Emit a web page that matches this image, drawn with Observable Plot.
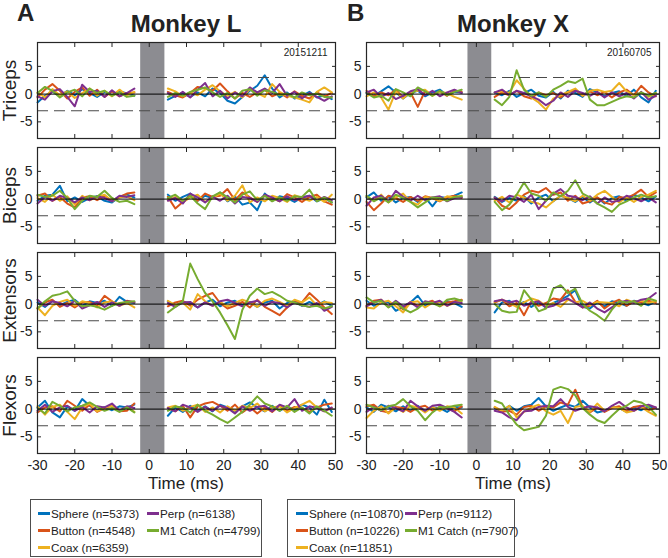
<!DOCTYPE html>
<html>
<head>
<meta charset="utf-8">
<script src="https://cdn.jsdelivr.net/npm/d3@7"></script>
<script src="https://cdn.jsdelivr.net/npm/@observablehq/plot@0.6"></script>
<style>
  body { margin: 0; background: #fff; font-family: "Liberation Sans", Arial, sans-serif; }
  #fig { position: relative; width: 668px; height: 558px; overflow: hidden; background: #fff; color: #222; }
  .abs { position: absolute; white-space: nowrap; }
  .panelLetter { font-weight: bold; font-size: 24px; line-height: 24px; }
  .monkeyTitle { font-weight: bold; font-size: 24px; line-height: 24px; transform: translateX(-50%); }
  .xlab { font-size: 17px; line-height: 17px; transform: translateX(-50%); }
  .legendBox { box-sizing: border-box; border: 1px solid #4d4d4d; background: #fff; }
  .legItem { position: absolute; font-size: 11.7px; line-height: 17px; height: 17px; display: flex; align-items: center; }
  .legItem .sw { display: inline-block; width: 12px; height: 3px; margin-right: 1px; }
  g[aria-label="y-axis label"] text { font-size: 19px; }
</style>
</head>
<body>
<div id="fig"></div>
<script>
// ---------- labels / categories ----------
const monkeys = ["Monkey L", "Monkey X"];
const panelLetters = ["A", "B"];
const sessionDates = ["20151211", "20160705"];
const muscles = ["Triceps", "Biceps", "Extensors", "Flexors"];
const conditions = ["Sphere", "Button", "Coax", "Perp", "M1 Catch"];
const conditionColors = ["#0072BD", "#D95319", "#EDB120", "#7E2F8E", "#77AC30"];
const trialCountsL = [5373, 4548, 6359, 6138, 4799];
const trialCountsX = [10870, 10226, 11851, 9112, 7907];
const xTicks = [-30, -20, -10, 0, 10, 20, 30, 40, 50];
const yTicks = [-5, 0, 5];
const thresholds = [-3, 3];
const stimWindow = [-2.3, 4.2];
const xLabel = "Time (ms)";

// time samples (ms): before and after the stimulation artifact window
const timesPre = [-30, -28, -26, -24, -22, -20, -18, -16, -14, -12, -10, -8, -6, -4];
const timesPost = [5, 7, 9, 11, 13, 15, 17, 19, 21, 23, 25, 27, 29, 31, 33, 35, 37, 39, 41, 43, 45, 47, 49];

// ---------- Monkey L ----------
const L_Triceps_Sphere = [-1.5,-0.3,0.5,-0.4,0.6,-0.2,0.9,0.2,-0.5,0.4,-0.2,0.5,0.1,-0.3, -1.0,-0.3,0.2,-0.5,0.3,-0.4,1.0,0.2,-1.2,-1.7,-0.5,0.6,1.5,3.4,1.0,-0.6,0.3,-0.8,-0.3,0.4,-0.6,-0.2,-0.9];
const L_Triceps_Button = [-0.6,0.8,1.8,0.6,-0.8,0.4,1.2,-0.3,0.8,-0.5,0.5,-0.4,0.2,0.3, 0.4,-0.2,-0.6,0.2,1.3,1.0,0.6,1.9,0.5,-0.8,0.2,-0.5,0.3,0.8,-0.4,0.2,-0.6,0.5,-0.3,-0.8,0.3,-0.4,0.2];
const L_Triceps_Coax = [0.3,-0.6,0.9,-0.2,0.5,-0.7,0.2,1.0,-0.3,0.6,-0.4,0.8,-0.2,0.4, 1.0,0.5,-0.4,0.3,-0.2,0.8,1.6,0.5,-0.3,0.4,-0.6,0.9,0.2,-0.5,1.8,0.4,-0.3,-0.6,-1.0,-1.5,0.4,1.2,0.3];
const L_Triceps_Perp = [-0.4,-1.0,0.5,0.9,-0.5,-2.2,1.7,0.4,0.6,-0.5,0.7,-0.4,0.2,1.0, 0.2,-0.5,0.4,-0.6,0.8,2.0,-0.4,0.6,-0.8,0.3,-0.4,1.2,0.3,1.0,0.2,1.8,-0.3,0.4,-0.8,0.2,-0.5,-1.2,-0.4];
const L_Triceps_M1 = [0.2,1.3,0.6,-0.6,0.3,0.8,-0.4,1.0,0.2,0.6,-0.3,0.3,-0.5,-0.3, -0.5,0.2,-0.3,0.4,0.8,1.2,0.3,-0.5,0.2,-0.8,0.6,0.9,-0.3,0.7,0.4,-0.2,0.1,-0.6,0.3,-0.2,0.1,-0.5,-0.6];

const L_Biceps_Sphere = [-0.3,0.6,0.8,2.4,-0.4,0.3,-0.5,0.2,0.5,-0.3,-0.6,0.4,0.8,0.3, 0.8,-0.3,0.4,1.0,-0.3,0.6,0.2,1.2,-0.4,0.5,-1.0,-0.6,-2.0,1.0,-0.3,0.5,0.2,-0.5,0.3,0.6,-0.4,0.2,-0.6];
const L_Biceps_Button = [0.6,1.0,-0.3,0.4,-0.8,-1.5,0.3,0.5,-0.2,0.6,-0.3,0.4,1.0,1.2, 0.4,-1.7,-0.5,0.6,-0.3,1.0,0.4,0.6,1.8,-0.2,1.2,0.3,-0.5,0.6,0.2,-0.4,0.9,0.3,-0.5,0.4,0.8,-0.4,-1.0];
const L_Biceps_Coax = [0.2,-0.5,0.8,-0.3,0.5,-1.0,0.6,-0.2,0.4,0.8,-0.4,0.3,0.5,-0.2, -0.2,0.4,-0.6,0.3,0.8,-0.5,0.2,1.0,-0.3,0.6,2.5,-0.6,0.3,-0.4,0.6,0.2,-0.5,0.7,0.2,-0.3,0.4,-0.5,0.8];
const L_Biceps_Perp = [-0.8,0.4,-0.3,0.6,0.2,-0.6,0.3,-0.2,0.5,0.2,-0.4,0.6,0.4,0.7, -0.3,0.2,-0.8,1.0,0.3,-0.6,0.5,-0.3,0.6,-0.8,0.4,0.2,-0.5,0.8,0.3,-0.4,0.5,-0.2,0.3,0.6,-0.3,0.4,-0.2];
const L_Biceps_M1 = [0.8,0.4,0.6,1.5,0.2,-1.8,-0.3,0.6,0.4,1.5,0.2,-0.5,-0.3,-0.9, 0.2,0.8,-0.3,0.6,-0.8,-1.8,0.5,1.2,0.3,-0.6,0.8,1.4,-0.2,0.6,-0.4,0.3,-0.3,0.5,0.4,1.7,-0.4,0.3,-0.6];

const L_Extensors_Sphere = [0.3,-0.5,0.6,-0.2,0.4,0.8,-0.3,0.5,0.2,0.6,-0.3,1.3,0.4,0.2, 0.5,-0.3,0.4,0.2,-0.6,0.3,0.8,-0.4,0.3,0.6,-0.2,0.4,-0.5,0.3,0.6,-0.8,0.2,0.5,-0.3,0.4,-0.2,0.5,-0.3];
const L_Extensors_Button = [-0.8,0.3,0.8,-0.5,0.2,-0.6,0.3,0.4,-0.3,1.5,0.5,-0.2,0.6,0.3, -0.4,0.3,0.6,-0.3,0.8,1.5,2.0,0.2,-0.8,-0.3,0.4,-0.6,0.8,-0.5,-1.2,-2.0,-0.6,0.5,0.3,2.0,0.8,-0.6,-1.8];
const L_Extensors_Coax = [-0.6,-2.0,-0.3,0.4,0.8,-0.3,0.5,0.2,-0.6,0.3,0.5,-0.3,0.2,-0.6, 0.6,-0.2,0.3,-1.0,1.8,0.5,-0.3,0.4,-0.4,0.2,0.8,0.3,-0.5,0.6,1.0,0.4,-0.3,0.8,0.3,1.2,-0.3,0.4,0.2];
const L_Extensors_Perp = [0.8,-0.3,0.5,0.2,-0.4,0.6,-0.8,-0.2,0.4,-0.5,0.3,-0.3,0.5,0.4, 0.2,-0.5,0.3,0.4,-0.6,0.3,-0.3,0.5,0.8,0.2,-0.4,0.3,0.6,-0.3,0.4,0.2,-0.6,0.3,-0.2,-0.5,0.2,-1.2,-0.5];
const L_Extensors_M1 = [-0.8,0.5,1.5,1.8,2.3,0.6,-0.4,-0.2,-0.5,-1.0,-0.3,0.2,0.4,0.5, -1.5,-0.5,0.5,7.3,4.5,2.0,0.5,-1.5,-3.8,-6.3,-1.0,1.5,2.8,1.8,2.2,1.5,0.6,0.3,-0.2,-0.5,-0.3,-0.8,-0.4];

const L_Flexors_Sphere = [0.3,1.5,-0.6,-1.5,0.5,-0.3,1.8,0.6,-0.3,0.4,-0.2,0.5,0.3,0.8, -1.2,0.3,-0.5,0.6,-0.3,0.5,-0.4,0.8,0.3,-0.6,0.5,1.2,0.3,-0.4,0.6,-0.3,0.5,-0.2,0.8,0.3,-1.0,1.7,-0.5];
const L_Flexors_Button = [-0.6,0.3,0.5,-0.4,1.5,0.6,-0.3,0.8,-0.5,0.2,0.6,-0.4,-0.3,1.0, 0.2,-0.4,0.6,-1.5,0.5,1.0,1.3,0.6,-0.3,0.8,-0.6,0.4,-0.8,0.3,-0.5,0.6,-0.3,0.4,0.2,-0.5,0.3,0.8,1.0];
const L_Flexors_Coax = [0.5,-1.0,0.4,0.8,-0.5,-1.8,0.3,1.0,-0.4,0.3,0.6,-0.3,0.4,-0.5, 0.3,0.6,-0.3,0.4,0.8,-0.5,0.3,-0.6,0.5,-0.3,0.6,0.2,1.0,-0.4,0.3,0.5,-0.6,0.2,0.8,1.5,0.3,-0.4,0.2];
const L_Flexors_Perp = [-0.3,0.8,-0.5,0.3,0.6,-0.3,0.4,-0.6,0.5,0.3,1.0,-0.3,0.5,0.2, 0.2,-0.4,0.8,0.3,-0.5,0.4,-0.3,0.6,0.2,-0.8,0.5,-0.3,0.4,0.6,-0.4,0.8,0.3,1.8,-0.3,0.5,0.2,-0.4,0.3];
const L_Flexors_M1 = [0.2,-0.8,1.3,0.6,-0.4,0.3,0.6,1.2,0.4,-0.3,0.2,-0.5,0.3,-0.6, -0.3,0.5,0.2,-0.6,0.8,-0.3,-1.0,-1.8,-2.5,-1.5,-0.5,0.8,2.3,1.0,0.5,-0.3,0.6,-0.5,0.3,-0.8,0.5,-0.3,-1.2];

// ---------- Monkey X ----------
const X_Triceps_Sphere = [0.2,-0.3,0.5,1.4,0.3,-0.8,0.2,0.6,-0.4,0.3,0.8,-0.2,0.4,0.3, 0.3,-0.2,0.6,-0.5,0.2,0.8,-0.3,-0.6,0.4,-0.8,0.6,0.2,-0.5,0.9,0.3,-0.4,0.2,0.5,-0.3,0.8,-0.6,-1.5,0.6];
const X_Triceps_Button = [0.6,-0.4,0.3,-0.2,0.8,-0.6,0.3,-2.3,0.6,-0.2,0.5,-0.3,0.6,0.4, -0.5,0.3,-0.2,0.6,-0.4,-0.8,0.3,-0.2,0.2,-0.6,0.3,0.8,-0.3,0.5,-0.2,0.4,-0.6,0.3,0.8,-0.2,1.5,0.3,-0.4];
const X_Triceps_Coax = [-0.4,0.3,-0.6,-2.8,0.5,-0.8,0.4,0.6,0.8,-0.3,0.4,0.2,-0.5,-1.0, 0.3,0.5,0.2,2.5,1.0,-0.6,-1.5,-2.8,-0.8,-0.2,0.4,1.0,-0.3,0.6,0.8,0.4,0.6,2.0,0.5,-0.2,0.3,-0.5,0.2];
const X_Triceps_Perp = [0.3,0.8,-0.5,0.2,-0.9,-0.3,0.5,0.9,-0.2,0.6,-0.4,0.3,0.8,0.2, 0.3,0.8,-0.2,0.6,0.2,-0.4,-1.0,-2.0,-1.2,0.3,-0.5,0.6,0.2,-0.3,0.4,-0.6,0.3,-0.4,0.2,-0.8,0.4,-1.0,-0.3];
const X_Triceps_M1 = [0.2,-0.6,-0.3,-1.2,0.9,0.3,-0.4,1.2,0.5,-0.3,0.6,-0.2,0.4,0.8, -1.0,-2.0,-0.5,4.3,0.8,-0.3,0.3,-0.5,0.8,1.5,2.3,2.0,2.8,-1.0,-2.0,-2.0,-1.4,-0.8,-0.4,-0.6,0.3,-0.3,0.2];

const X_Biceps_Sphere = [0.3,1.2,-0.3,0.5,-0.6,0.2,0.4,-0.5,0.3,-1.3,0.4,0.2,0.6,1.2, 0.4,-0.5,0.2,-0.3,0.5,-0.8,0.3,0.8,-0.4,0.6,0.2,-0.5,0.4,-0.6,0.3,-0.8,0.2,0.5,-0.3,0.8,0.3,-0.4,0.5];
const X_Biceps_Button = [-0.5,-2.0,-0.8,0.6,0.2,-0.5,0.4,-0.3,0.5,0.2,-0.4,0.3,0.6,0.2, 0.3,-1.2,-1.8,-0.6,0.8,1.5,1.2,2.0,0.8,1.2,-0.3,0.6,-0.8,-0.4,0.3,-0.6,-1.0,0.4,0.2,0.8,1.7,0.4,1.2];
const X_Biceps_Coax = [0.5,-0.3,0.8,-0.6,0.3,1.0,-0.5,-1.0,0.4,0.2,-0.3,0.5,0.3,0.6, -0.3,0.4,-0.6,0.8,0.3,-0.5,-0.8,-1.5,-0.4,0.6,0.2,-0.4,0.6,-0.3,0.8,1.5,0.4,-0.6,0.3,-0.5,0.4,0.8,1.5];
const X_Biceps_Perp = [-1.2,0.3,0.6,-0.5,1.5,0.4,-0.3,0.6,-0.2,0.3,0.5,-0.4,0.2,0.3, 0.2,-0.4,0.6,0.3,-0.5,0.8,-1.8,-0.3,1.0,1.8,0.6,0.4,-0.2,0.5,-0.8,0.3,-0.5,-0.3,0.6,0.2,-0.4,0.3,-0.6];
const X_Biceps_M1 = [0.6,-0.4,0.3,-0.6,0.8,0.2,-0.5,-1.5,-0.6,0.3,0.2,-0.3,0.4,0.5, -0.5,-2.0,-1.0,0.8,3.0,1.0,0.6,-0.3,1.2,0.5,1.5,3.4,1.0,0.3,-0.8,-1.5,-2.3,-1.0,-0.4,0.3,0.8,0.3,0.5];

const X_Extensors_Sphere = [0.6,-0.3,0.2,0.4,-1.2,-0.5,0.3,1.5,-0.3,0.4,-0.2,0.5,0.2,-0.5, -1.5,0.3,0.6,-0.3,0.4,-0.5,0.3,-0.6,0.2,0.8,1.5,2.5,-0.5,-0.8,0.3,-0.4,0.5,0.2,-0.3,0.6,0.3,-0.2,0.5];
const X_Extensors_Button = [-0.3,0.6,0.8,-0.5,0.3,-1.0,0.4,-0.3,0.2,0.6,-0.4,0.3,0.5,0.8, 0.3,0.8,-0.4,0.2,-2.0,0.5,-0.3,0.2,1.0,0.8,2.5,0.4,-0.6,-0.3,0.6,-0.8,0.2,0.8,-0.3,0.5,0.3,0.6,0.2];
const X_Extensors_Coax = [-0.6,-0.8,0.3,0.6,-0.4,-1.5,0.3,0.5,-0.6,0.2,0.4,-0.3,0.2,0.6, 0.4,0.8,0.2,-0.5,0.3,1.0,0.6,-0.3,0.2,-0.5,0.8,0.3,0.6,-0.2,0.4,0.3,0.2,-0.4,0.8,0.3,0.6,0.2,0.5];
const X_Extensors_Perp = [-0.4,0.3,0.8,-0.5,0.6,-0.4,0.3,-0.6,0.5,0.2,0.6,-0.3,0.4,0.2, 0.5,0.8,0.3,0.6,-0.3,0.2,0.5,-0.6,-0.3,0.5,1.0,0.2,-0.6,0.3,-0.8,-1.5,-0.6,0.3,0.6,0.2,0.8,1.0,2.0];
const X_Extensors_M1 = [1.2,0.3,0.6,-0.6,0.4,-0.8,-1.5,-0.8,0.3,0.2,-0.4,0.8,1.0,0.6, 0.0,-1.2,-1.5,-1.4,2.5,0.8,-1.3,-0.8,2.8,3.4,2.0,2.8,0.0,-1.2,-2.0,-3.0,-1.0,0.5,0.3,0.5,-0.3,1.0,0.6];

const X_Flexors_Sphere = [0.3,-0.5,0.8,0.3,-0.4,0.5,-0.3,0.6,-0.4,0.3,0.2,-0.5,0.4,0.3, 0.2,-0.4,0.6,-0.3,0.5,0.8,2.0,0.5,-0.3,0.3,0.8,0.4,1.5,0.3,-0.6,-0.3,0.4,0.2,-0.5,0.3,-0.2,0.5,0.2];
const X_Flexors_Button = [0.5,0.8,-0.3,-0.6,0.4,0.2,-0.5,0.3,0.6,-0.3,0.4,0.2,-0.4,0.5, 0.3,-0.5,-0.3,-1.0,0.4,0.6,-0.3,0.5,0.3,1.2,0.8,3.5,0.4,-0.6,0.3,-0.5,0.2,0.5,-0.3,0.4,0.6,-0.2,0.3];
const X_Flexors_Coax = [-1.6,-0.3,0.5,-0.8,0.3,-0.5,0.6,0.3,-0.6,0.4,-0.3,0.5,0.3,-0.8, 0.4,-0.3,0.6,-1.5,-0.5,0.3,0.8,-0.4,-1.0,-0.3,-2.5,0.4,0.6,-0.5,1.0,-0.3,0.4,0.2,-0.6,-0.3,0.4,-0.5,-1.2];
const X_Flexors_Perp = [-0.5,0.4,-0.3,0.6,0.2,-0.4,1.5,0.5,-0.3,0.6,0.8,0.2,-0.5,-1.5, -0.3,-0.6,-1.5,-2.0,-0.4,-0.3,0.4,0.6,0.5,1.8,0.4,-0.3,0.2,0.5,0.3,-0.4,0.6,1.3,0.3,-0.3,0.5,0.8,0.3];
const X_Flexors_M1 = [0.8,0.3,-0.2,0.5,0.8,1.8,0.5,-0.3,-2.0,-0.6,0.4,0.3,0.6,0.8, 1.5,1.0,-1.0,-2.8,-3.8,-3.5,-3.2,-1.2,3.5,4.0,3.6,2.5,0.2,-1.0,-2.0,-2.5,-1.2,0.0,0.6,1.5,1.2,0.4,-1.0];

// ---------- assemble (monkey -> muscle -> condition) ----------
const seriesTable = [
  [
    [L_Triceps_Sphere, L_Triceps_Button, L_Triceps_Coax, L_Triceps_Perp, L_Triceps_M1],
    [L_Biceps_Sphere, L_Biceps_Button, L_Biceps_Coax, L_Biceps_Perp, L_Biceps_M1],
    [L_Extensors_Sphere, L_Extensors_Button, L_Extensors_Coax, L_Extensors_Perp, L_Extensors_M1],
    [L_Flexors_Sphere, L_Flexors_Button, L_Flexors_Coax, L_Flexors_Perp, L_Flexors_M1]
  ],
  [
    [X_Triceps_Sphere, X_Triceps_Button, X_Triceps_Coax, X_Triceps_Perp, X_Triceps_M1],
    [X_Biceps_Sphere, X_Biceps_Button, X_Biceps_Coax, X_Biceps_Perp, X_Biceps_M1],
    [X_Extensors_Sphere, X_Extensors_Button, X_Extensors_Coax, X_Extensors_Perp, X_Extensors_M1],
    [X_Flexors_Sphere, X_Flexors_Button, X_Flexors_Coax, X_Flexors_Perp, X_Flexors_M1]
  ]
];
const trialCounts = [trialCountsL, trialCountsX];

// ---------- layout ----------
const fig = document.getElementById("fig");
const colLayout = [
  {left: 0, width: 338, marginLeft: 37, marginRight: 3, center: 186, legendLeft: 30, legendWidth: 232, swOff: [7, 116]},
  {left: 334, width: 334, marginLeft: 32, marginRight: 9, center: 513, legendLeft: 287, legendWidth: 228, swOff: [8, 117]}
];
const frameTops = [42, 147, 252, 357];
const frameH = 96, padTop = 4, padBottom = 4, bottomAxisSpace = 32;
const fontFam = "'Liberation Sans', Arial, Helvetica, sans-serif";

function rowsFor(mi, ri) {
  const rows = [];
  conditions.forEach((c, ci) => {
    const vals = seriesTable[mi][ri][ci];
    timesPre.forEach((t, i) => rows.push({t, v: vals[i], cond: c}));
    rows.push({t: 0, v: NaN, cond: c});
    timesPost.forEach((t, i) => rows.push({t, v: vals[timesPre.length + i], cond: c}));
  });
  return rows;
}

function makePanel(mi, ri) {
  const col = colLayout[mi];
  const isBottom = ri === muscles.length - 1;
  const mb = isBottom ? bottomAxisSpace : padBottom;
  const marks = [
    Plot.rect([stimWindow], {x1: d => d[0], x2: d => d[1], fill: "#8c8c91"}),
    Plot.line(rowsFor(mi, ri), {x: "t", y: "v", z: "cond", stroke: "cond", strokeWidth: 2, strokeLinejoin: "round"}),
    Plot.ruleY(thresholds, {stroke: "#4a4a4a", strokeWidth: 1.1, strokeDasharray: "11,6"}),
    Plot.ruleY([0], {stroke: "#000", strokeWidth: 1}),
    Plot.frame({stroke: "#262626", strokeWidth: 1.2}),
    Plot.axisX(xTicks, {anchor: "bottom", tickSize: -4, tickFormat: () => "", label: null, stroke: "#262626"}),
    Plot.axisX(xTicks, {anchor: "top", tickSize: -4, tickFormat: () => "", label: null, stroke: "#262626"}),
    Plot.axisY(yTicks, {anchor: "right", tickSize: -4, tickFormat: () => "", label: null, stroke: "#262626"}),
    Plot.axisY(yTicks, {anchor: "left", tickSize: -4, tickFormat: () => "", label: null, stroke: "#262626"}),
    Plot.axisY(yTicks, {anchor: "left", tickSize: 0, tickPadding: 5, tickFormat: d => `${d}`, fill: "#222", fontSize: 14,
      label: mi === 0 ? muscles[ri] : null, labelAnchor: "center", labelOffset: 35, labelArrow: "none"})
  ];
  if (isBottom) {
    marks.push(Plot.axisX(xTicks, {anchor: "bottom", tickSize: 0, tickPadding: 7, tickFormat: d => `${d}`, fill: "#222", fontSize: 14, label: null}));
  }
  if (ri === 0) {
    marks.push(Plot.text([sessionDates[mi]], {text: d => d, frameAnchor: "top-right", dx: -8, dy: 6, fontSize: 10, fill: "#222"}));
  }
  const svg = Plot.plot({
    width: col.width,
    height: padTop + frameH + mb,
    marginLeft: col.marginLeft,
    marginRight: col.marginRight,
    marginTop: padTop,
    marginBottom: mb,
    x: {domain: [xTicks[0], xTicks[xTicks.length - 1]]},
    y: {domain: [-8, 9.3]},
    color: {domain: conditions, range: conditionColors},
    style: {background: "none", overflow: "visible", fontFamily: fontFam, fontSize: "14px", color: "#222"},
    marks
  });
  svg.style.position = "absolute";
  svg.style.left = col.left + "px";
  svg.style.top = (frameTops[ri] - padTop) + "px";
  svg.style.maxWidth = "none";
  fig.appendChild(svg);
}

monkeys.forEach((m, mi) => muscles.forEach((mu, ri) => makePanel(mi, ri)));

function addText(cls, text, left, top) {
  const d = document.createElement("div");
  d.className = "abs " + cls;
  d.textContent = text;
  d.style.left = left + "px";
  d.style.top = top + "px";
  d.style.fontFamily = fontFam;
  fig.appendChild(d);
  return d;
}

const letterLeft = [17, 347];
monkeys.forEach((m, mi) => {
  const col = colLayout[mi];
  addText("panelLetter", panelLetters[mi], letterLeft[mi], 1);
  addText("monkeyTitle", m, col.center, 12);
  addText("xlab", xLabel, col.center, 475);
  // legend
  const box = document.createElement("div");
  box.className = "abs legendBox";
  Object.assign(box.style, {left: col.legendLeft + "px", top: "499px", width: col.legendWidth + "px", height: "58px"});
  conditions.forEach((c, ci) => {
    const colIdx = ci < 3 ? 0 : 1, rowIdx = ci < 3 ? ci : ci - 3;
    const it = document.createElement("div");
    it.className = "legItem";
    it.style.left = col.swOff[colIdx] + "px";
    it.style.top = (5 + rowIdx * 17) + "px";
    it.style.fontFamily = fontFam;
    const sw = document.createElement("span");
    sw.className = "sw";
    sw.style.background = conditionColors[ci];
    const tx = document.createElement("span");
    tx.textContent = `${c} (n=${trialCounts[mi][ci]})`;
    it.appendChild(sw); it.appendChild(tx);
    box.appendChild(it);
  });
  fig.appendChild(box);
});
</script>
</body>
</html>
